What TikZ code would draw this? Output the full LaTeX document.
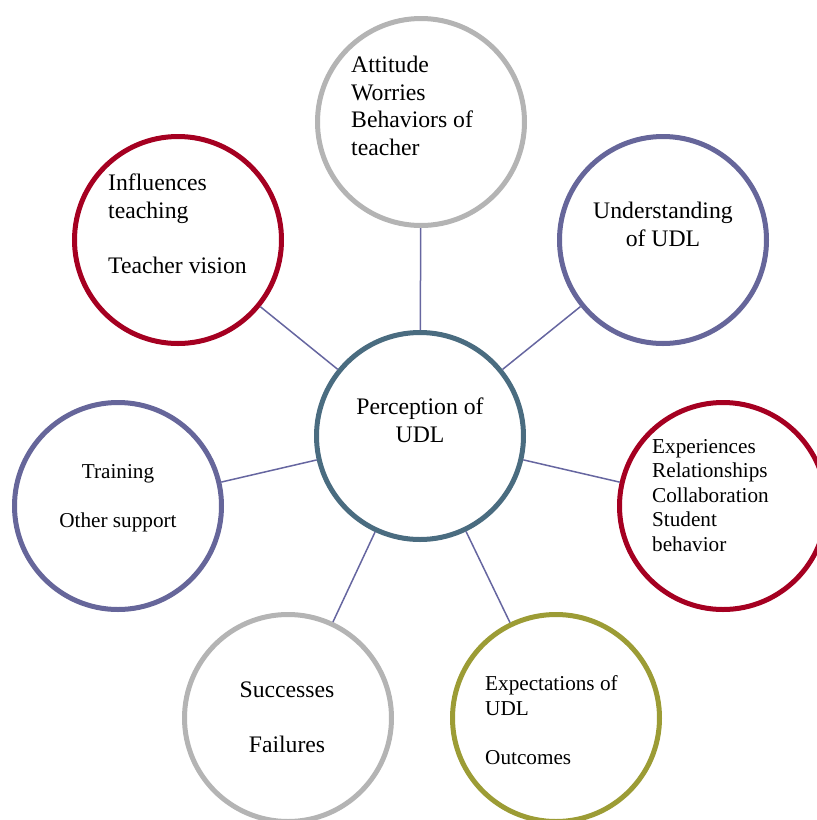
\documentclass[tikz,border=0pt]{standalone}
\usepackage{fontspec}
\setmainfont{Liberation Serif}
\usepackage{xcolor}
\usepackage{tikz}
\definecolor{corecolor}{HTML}{4A6C80}
\definecolor{greyring}{HTML}{B4B4B4}
\definecolor{redring}{HTML}{A50021}
\definecolor{purplering}{HTML}{66669A}
\definecolor{olivering}{HTML}{9C9C35}
\definecolor{linkcolor}{HTML}{6666A0}
\tikzset{
    ring/.style={
        circle, draw=#1, fill=white,
        line width=5pt, minimum size=207pt,
        inner sep=0pt
    },
    big text/.style={
        font=\fontsize{23.7}{27.5}\selectfont,
        inner sep=0pt
    },
    small text/.style={
        font=\fontsize{21.2}{24.5}\selectfont,
        inner sep=0pt
    },
    link/.style={
        line width=1.5pt, color=linkcolor
    },
}

\begin{document}
\begin{tikzpicture}[x=1pt, y=-1pt]

    % Frame
    \useasboundingbox (0,0) rectangle (817,820);
    \clip (0,0) rectangle (817,820);

    % Core circle
    \node[ring=corecolor] (core) at (420,436) {};

    % Outer circles
    \node[ring=greyring] (attitude) at (421,122) {};
    \node[ring=purplering] (understanding) at (663,240) {};
    \node[ring=redring] (experiences) at (723,506) {};
    \node[ring=olivering] (expectations) at (556,718) {};
    \node[ring=greyring] (successes) at (288,718) {};
    \node[ring=purplering] (training) at (118,506) {};
    \node[ring=redring] (influences) at (178,240) {};

    % Links
    \draw[link] (core) -- (attitude);
    \draw[link] (core) -- (understanding);
    \draw[link] (core) -- (experiences);
    \draw[link] (core) -- (expectations);
    \draw[link] (core) -- (successes);
    \draw[link] (core) -- (training);
    \draw[link] (core) -- (influences);

    % Texts (base = last line)
    \node[big text, align=center, anchor=base] (coretxt) at (420,442) {Perception of\\UDL};
    \node[big text, align=left, anchor=base west] (attitudetxt) at (351,155) {Attitude\\Worries\\Behaviors of\\teacher};
    \node[big text, align=center, anchor=base] (understandingtxt) at (663,246) {Understanding\\of UDL};
    \node[small text, align=left, anchor=base west] (experiencestxt) at (652,551) {Experiences\\Relationships\\Collaboration\\Student\\behavior};
    \node[small text, align=left, anchor=base west] (expectationstxt) at (485,764) {Expectations of\\UDL\\[24.5pt]Outcomes};
    \node[big text, align=center, anchor=base] (successestxt) at (287,752) {Successes\\[27.5pt]Failures};
    \node[small text, align=center, anchor=base] (trainingtxt) at (118,527) {Training\\[24.5pt]Other support};
    \node[big text, align=left, anchor=base west] (influencestxt) at (108,273) {Influences\\teaching\\[27.5pt]Teacher vision};

\end{tikzpicture}
\end{document}
